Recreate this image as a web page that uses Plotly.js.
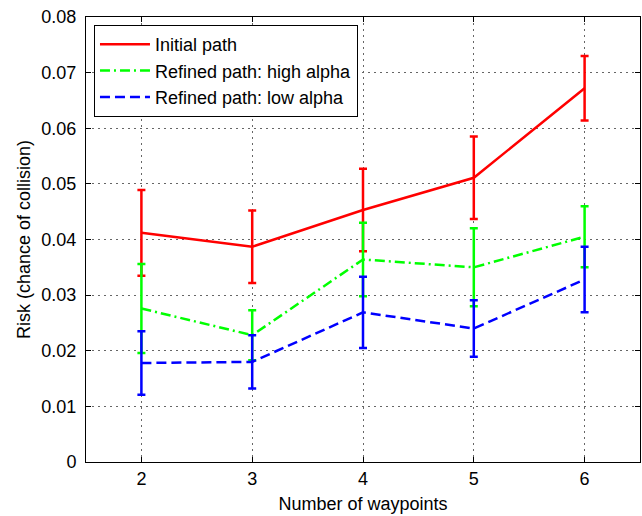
<!DOCTYPE html>
<html>
<head>
<meta charset="utf-8">
<script src="https://cdn.plot.ly/plotly-3.0.1.min.js"></script>
<style>html,body{margin:0;padding:0;background:#fff;}#chart{width:642px;height:516px;}</style>
</head>
<body>
<div id="chart"></div>
<script>
const waypoints = [2, 3, 4, 5, 6];

const initialRisk = [0.0412, 0.0387, 0.0453, 0.0511, 0.0672];
const initialErr  = [0.0077, 0.0065, 0.0074, 0.0074, 0.0058];

const highAlphaRisk = [0.0276, 0.0228, 0.0364, 0.0350, 0.0405];
const highAlphaErr  = [0.0080, 0.0045, 0.0066, 0.0070, 0.0055];

const lowAlphaRisk = [0.0178, 0.0180, 0.0269, 0.0240, 0.0328];
const lowAlphaErr  = [0.0057, 0.0048, 0.0064, 0.0051, 0.0059];

const seriesNames = ['Initial path', 'Refined path: high alpha', 'Refined path: low alpha'];

function trace(y, e, name, color, dash) {
  return {
    x: waypoints, y: y, name: name, type: 'scatter', mode: 'lines',
    line: {color: color, width: 2.5, dash: dash},
    error_y: {type: 'data', array: e, visible: true, color: color, thickness: 2.5, width: 4}
  };
}

const data = [
  trace(initialRisk, initialErr, seriesNames[0], '#ff0000', 'solid'),
  trace(highAlphaRisk, highAlphaErr, seriesNames[1], '#00ff00', '10px,4px,2px,4px'),
  trace(lowAlphaRisk, lowAlphaErr, seriesNames[2], '#0000ff', '10px,5px')
];

const FONT = 'Liberation Sans, Arial, sans-serif';

const axisCommon = {
  showline: true, mirror: 'ticks', linecolor: '#000', linewidth: 1,
  ticks: 'inside', ticklen: 5, tickcolor: '#000',
  showgrid: true, gridcolor: '#666', griddash: '1.5px,4.5px', gridwidth: 1,
  zeroline: false,
  tickfont: {family: FONT, size: 18, color: '#000'}
};

const layout = {
  width: 642, height: 516,
  margin: {l: 86, r: 2, t: 17, b: 54},
  paper_bgcolor: '#fff', plot_bgcolor: '#fff',
  font: {family: FONT, size: 18, color: '#000'},
  showlegend: true,
  legend: {
    x: 0.0144, y: 0.982, xanchor: 'left', yanchor: 'top',
    bgcolor: '#fff', bordercolor: '#000', borderwidth: 1,
    font: {family: FONT, size: 18, color: '#000'},
    tracegroupgap: 0, itemwidth: 50
  },
  xaxis: Object.assign({}, axisCommon, {
    range: [1.5, 6.5], tickvals: waypoints, ticktext: waypoints.map(String),
    title: {text: 'Number of waypoints', font: {family: FONT, size: 18}, standoff: 9}
  }),
  yaxis: Object.assign({}, axisCommon, {
    range: [0, 0.08], dtick: 0.01, tick0: 0, ticklabelstandoff: 5,
    title: {text: 'Risk (chance of collision)', font: {family: FONT, size: 18}, standoff: 6}
  })
};

Plotly.newPlot('chart', data, layout, {displayModeBar: false, staticPlot: true});
</script>
</body>
</html>
